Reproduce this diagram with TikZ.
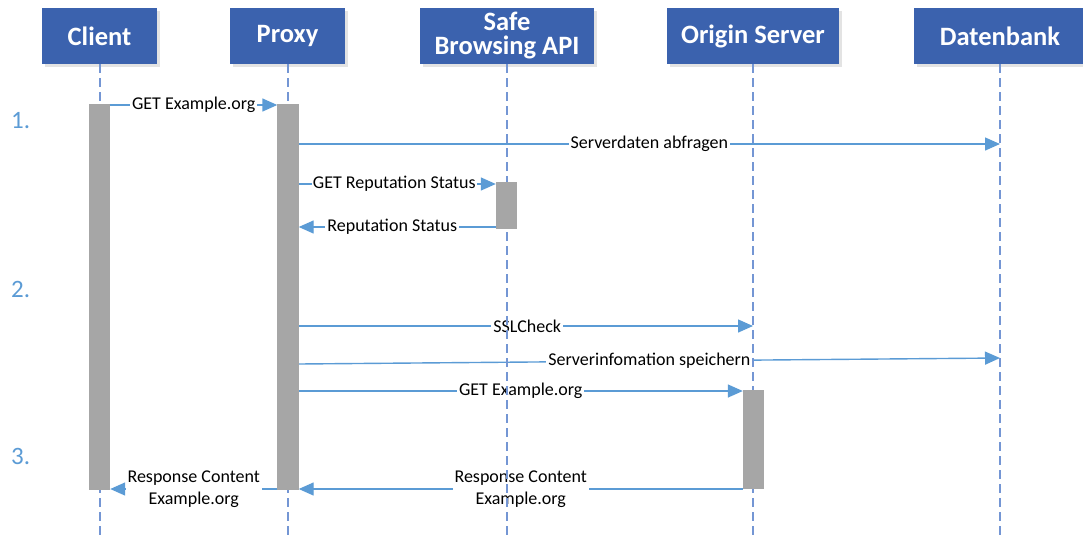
\documentclass[tikz,border=0pt]{standalone}
\usepackage{fontspec}
\setmainfont{Carlito}
\usetikzlibrary{arrows.meta,shadows}

\definecolor{hdrblue}{RGB}{59,98,174}
\definecolor{msgblue}{RGB}{91,155,213}
\definecolor{lifeblue}{RGB}{116,150,212}
\definecolor{bargray}{RGB}{166,166,166}

\tikzset{
  actor/.style={rectangle, fill=hdrblue, text=white, inner sep=0pt,
    minimum height=56pt, font=\fontsize{26.5}{27}\selectfont\bfseries, align=center,
    drop shadow={shadow xshift=3pt, shadow yshift=-3pt, fill=black!18, opacity=0.6}},
  lifeline/.style={draw=lifeblue, line width=2pt, dash pattern=on 9pt off 5pt},
  actbar/.style={rectangle, draw=none, fill=none, inner sep=0pt, minimum width=21pt},
  msgline/.style={draw=msgblue, line width=1.4pt, -{Triangle[length=15pt,width=13pt]}},
  msglabel/.style={fill=white, inner sep=2pt, text=black, align=center,
    font=\fontsize{18}{21.5}\selectfont},
  stepnum/.style={anchor=west, text=msgblue, font=\fontsize{25}{27}\selectfont, inner sep=0pt}
}

\begin{document}
\begin{tikzpicture}[x=1pt, y=-1pt]
\useasboundingbox (0,0) rectangle (1083,536);

% participants
\node[actor, minimum width=115pt] (client) at (99.5,36) {\raisebox{-2pt}{Client}};
\node[actor, minimum width=115pt] (proxy) at (287.5,36) {\raisebox{-2pt}{Proxy}};
\node[actor, minimum width=174pt] (safe) at (507,36) {Safe\\[-3pt]Browsing API};
\node[actor, minimum width=172pt] (origin) at (753,36) {\raisebox{-2pt}{Origin Server}};
\node[actor, minimum width=172pt] (db) at (1000,36) {\raisebox{-2pt}{Datenbank}};

% step numbers
\node[stepnum] (s1) at (11,121) {1.};
\node[stepnum] (s2) at (11,289) {2.};
\node[stepnum] (s3) at (11,456) {3.};

% rows of the messages
\coordinate (r1) at (0,105);
\coordinate (r2) at (0,144);
\coordinate (r3) at (0,184);
\coordinate (r4) at (0,227);
\coordinate (r5) at (0,326);
\coordinate (r6a) at (0,364);
\coordinate (r6b) at (0,358);
\coordinate (r7) at (0,391);
\coordinate (r8) at (0,489);

% activation bar outlines (filled at the end, over the lifelines)
\node[actbar, minimum height=386pt] (cbar) at (99.5,297) {};
\node[actbar, minimum height=386pt] (pbar) at (288,297) {};
\node[actbar, minimum height=47pt] (sbar) at (506.5,205.5) {};
\node[actbar, minimum height=99pt] (obar) at (753.5,439.5) {};

% lifeline ends
\coordinate (clientEnd) at (99.5,536);
\coordinate (proxyEnd) at (287.5,536);
\coordinate (safeEnd) at (507,536);
\coordinate (originEnd) at (753,536);
\coordinate (dbEnd) at (1000,536);

% messages
\draw[msgline] (cbar.east |- r1) -- node[msglabel] {GET Example.org} (pbar.west |- r1);
\draw[msgline] (pbar.east |- r2) -- node[msglabel] {Serverdaten abfragen} (dbEnd |- r2);
\draw[msgline] (pbar.east |- r3) -- node[msglabel, inner xsep=1pt, xshift=-3pt] {GET Reputation Status} (sbar.west |- r3);
\draw[msgline] (sbar.west |- r4) -- node[msglabel, xshift=-5pt] {Reputation Status} (pbar.east |- r4);
\draw[msgline] (proxyEnd |- r5) -- node[msglabel, xshift=7pt] {SSLCheck} (originEnd |- r5);
\draw[msgline] (pbar.east |- r6a) -- node[msglabel] {Serverinfomation speichern} (dbEnd |- r6b);
\draw[msgline] (pbar.east |- r7) -- node[msglabel] {GET Example.org} (obar.west |- r7);
\draw[msgline] (obar.west |- r8) -- node[msglabel] {Response Content\\Example.org} (pbar.east |- r8);
\draw[msgline] (pbar.west |- r8) -- node[msglabel] {Response Content\\Example.org} (cbar.east |- r8);

% lifelines
\draw[lifeline] (client.south) -- (clientEnd);
\draw[lifeline] (proxy.south) -- (proxyEnd);
\draw[lifeline] (safe.south) -- (safeEnd);
\draw[lifeline] (origin.south) -- (originEnd);
\draw[lifeline] (db.south) -- (dbEnd);

% activation bars
\fill[bargray] (cbar.north west) rectangle (cbar.south east);
\fill[bargray] (pbar.north west) rectangle (pbar.south east);
\fill[bargray] (sbar.north west) rectangle (sbar.south east);
\fill[bargray] (obar.north west) rectangle (obar.south east);
\end{tikzpicture}
\end{document}
